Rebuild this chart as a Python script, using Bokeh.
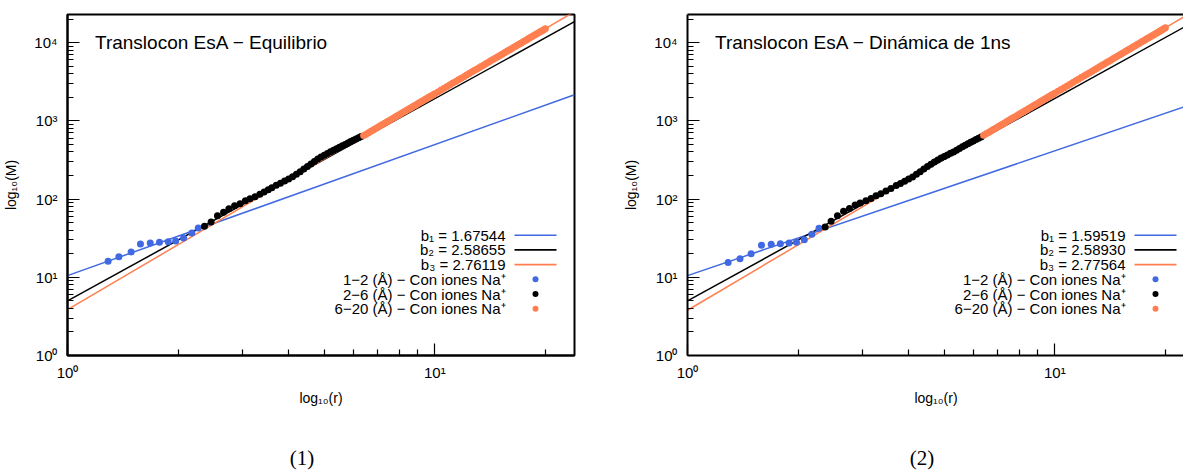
from bokeh.plotting import figure
from bokeh.layouts import row, column
from bokeh.models import Range1d, FixedTicker, LogAxis, Label, BoxAnnotation, Div, Spacer
from bokeh.embed import file_html
from bokeh.resources import INLINE

FONT = "Liberation Sans"
SERIF = "Liberation Serif"
BLUE = "#4169E1"
BLACK = "#000000"
CORAL = "#FF7F50"

Y_MAX = 22900

# ---------------- Panel (1): equilibrium ----------------
eq_r_12 = [1.29, 1.38, 1.49, 1.58, 1.68, 1.78, 1.88, 1.97, 2.07, 2.18, 2.27]
eq_m_12 = [16.0, 18.3, 21.1, 26.7, 27.5, 28.0, 28.5, 29.1, 31.8, 36.8, 42.7]

eq_r_26 = [2.36, 2.46, 2.56, 2.66, 2.75, 2.85, 2.95, 3.05, 3.14, 3.24, 3.34, 3.43, 3.52,
           3.6, 3.7, 3.8, 3.9, 4.0, 4.1, 4.2, 4.3, 4.4, 4.5, 4.6, 4.7, 4.8, 4.9, 5.0,
           5.1, 5.2, 5.3, 5.4, 5.5, 5.6, 5.7, 5.8, 5.9, 6.0, 6.1, 6.2, 6.3]
eq_m_26 = [45, 51, 61, 68, 75, 82, 87, 95, 101, 107, 115, 123, 132,
           140, 150, 159, 170, 181, 193, 208, 224, 243, 261, 281, 302, 325, 345, 364,
           383, 402, 421, 440, 460, 480, 500, 521, 543, 564, 587, 610, 632]

r_620 = [6.4, 6.5, 6.6, 6.7, 6.8, 6.9, 7.0, 7.1, 7.2, 7.3, 7.4, 7.5, 7.6, 7.7, 7.8, 7.9,
         8.0, 8.1, 8.2, 8.3, 8.4, 8.5, 8.6, 8.7, 8.8, 8.9, 9.0, 9.1, 9.2, 9.3, 9.4, 9.5,
         9.6, 9.7, 9.8, 9.9,
         10.0, 10.2, 10.4, 10.6, 10.8, 11.0, 11.2, 11.4, 11.6, 11.8, 12.0, 12.2, 12.4,
         12.6, 12.8, 13.0, 13.2, 13.4, 13.6, 13.8, 14.0, 14.2, 14.4, 14.6, 14.8, 15.0,
         15.2, 15.4, 15.6, 15.8, 16.0, 16.2, 16.4, 16.6, 16.8, 17.0, 17.2, 17.4, 17.6,
         17.8, 18.0, 18.2, 18.4, 18.6, 18.8, 19.0, 19.2, 19.4, 19.6, 19.8, 20.0]
eq_m_620 = [648, 676, 705, 735, 766, 798, 830, 863, 897, 932, 967, 1004, 1041, 1080, 1119,
            1159, 1200, 1242, 1284, 1328, 1373, 1418, 1465, 1513, 1561, 1610, 1661, 1712,
            1765, 1818, 1873, 1928, 1985, 2043, 2101, 2161,
            2222, 2347, 2476, 2610, 2748, 2890, 3038, 3190, 3347, 3509, 3675, 3847, 4024,
            4206, 4393, 4585, 4782, 4985, 5193, 5406, 5626, 5850, 6081, 6317, 6559, 6807,
            7060, 7320, 7584, 7857, 8134, 8418, 8707, 9005, 9308, 9616, 9932, 10250, 10580,
            10920, 11260, 11610, 11970, 12330, 12700, 13070, 13460, 13850, 14240, 14650, 15060]

eq_slopes = [1.67544, 2.58655, 2.76119]
eq_prefactors = [10.5, 4.98, 3.85]

# ---------------- Panel (2): 1 ns dynamics ----------------
md_r_12 = [1.29, 1.39, 1.49, 1.59, 1.69, 1.79, 1.89, 1.98, 2.08, 2.18, 2.28]
md_m_12 = [15.4, 17.3, 20.0, 25.7, 26.4, 26.9, 27.5, 28.0, 30.3, 35.5, 42.3]

md_r_26 = [2.37, 2.46, 2.56, 2.66, 2.76, 2.86, 2.95, 3.06, 3.16, 3.26, 3.36, 3.47, 3.58,
           3.7, 3.8, 3.9, 4.0, 4.1, 4.2, 4.3, 4.4, 4.5, 4.6, 4.7, 4.8, 4.9, 5.0,
           5.1, 5.2, 5.3, 5.4, 5.5, 5.6, 5.7, 5.8, 5.9, 6.0, 6.1, 6.2, 6.3]
md_m_26 = [44, 52, 61, 70, 76, 84, 89, 95, 102, 110, 117, 127, 137,
           149, 158, 169, 180, 192, 207, 224, 242, 260, 278, 297, 316, 334, 351,
           367, 384, 401, 420, 442, 465, 487, 509, 531, 553, 576, 599, 621]

md_m_620 = [654, 683, 712, 743, 774, 806, 839, 872, 907, 942, 978, 1016, 1053, 1092, 1132,
            1174, 1215, 1258, 1301, 1346, 1391, 1438, 1485, 1534, 1583, 1634, 1685, 1738,
            1791, 1846, 1901, 1958, 2016, 2075, 2135, 2195,
            2258, 2385, 2517, 2654, 2795, 2941, 3092, 3248, 3409, 3574, 3744, 3921, 4101,
            4288, 4480, 4676, 4878, 5087, 5300, 5519, 5744, 5975, 6212, 6454, 6702, 6957,
            7217, 7484, 7756, 8037, 8321, 8613, 8911, 9217, 9529, 9847, 10170, 10500, 10840,
            11190, 11540, 11900, 12270, 12640, 13020, 13410, 13800, 14210, 14620, 15030, 15460]

md_slopes = [1.59519, 2.58930, 2.77564]
md_prefactors = [10.5, 4.98, 3.79]

SERIES_LABELS = ["1\u22122 (\u00c5) \u2212 Con iones Na\u207a",
                 "2\u22126 (\u00c5) \u2212 Con iones Na\u207a",
                 "6\u221220 (\u00c5) \u2212 Con iones Na\u207a"]
SUBS = ["\u2081", "\u2082", "\u2083"]
COLORS = [BLUE, BLACK, CORAL]

X_MAJOR = [1, 10]
X_MINOR = [2, 3, 4, 5, 6, 7, 8, 9, 20, 30]
Y_MAJOR = [1, 10, 100, 1000, 10000]
Y_MINOR = [m * 10 ** e for e in range(5) for m in range(2, 10)]
SUP = {0: "\u2070", 1: "\u00b9", 2: "\u00b2", 3: "\u00b3", 4: "\u2074"}

FRAME_H = 341


def style_axis(ax):
    ax.axis_line_width = 2
    ax.axis_line_color = "black"
    ax.major_tick_in = 12
    ax.major_tick_out = 0
    ax.minor_tick_in = 6
    ax.minor_tick_out = 0
    ax.major_tick_line_width = 1.2
    ax.minor_tick_line_width = 1.2
    ax.major_tick_line_color = "black"
    ax.minor_tick_line_color = "black"
    ax.major_label_text_font = FONT
    ax.major_label_text_font_size = "15px"
    ax.major_label_text_color = "black"
    ax.axis_label_text_font = FONT
    ax.axis_label_text_font_size = "14px"
    ax.axis_label_text_font_style = "normal"
    ax.axis_label_text_color = "black"


def make_panel(title, r12, m12, r26, m26, r620, m620, slopes, prefactors,
               frame_w, border_l, border_r, full_box):
    x_max = 10 ** (frame_w / 367.3)
    p = figure(x_axis_type="log", y_axis_type="log",
               x_range=Range1d(1, x_max), y_range=Range1d(1, Y_MAX),
               frame_width=frame_w, frame_height=FRAME_H,
               min_border_left=border_l, min_border_right=border_r,
               min_border_top=14, min_border_bottom=92,
               output_backend="svg", toolbar_location=None,
               background_fill_color="white", border_fill_color="white")
    p.xgrid.visible = False
    p.ygrid.visible = False

    xa = p.below[0]
    ya = p.left[0]
    style_axis(xa)
    style_axis(ya)
    xa.ticker = FixedTicker(ticks=X_MAJOR, minor_ticks=X_MINOR)
    ya.ticker = FixedTicker(ticks=Y_MAJOR, minor_ticks=Y_MINOR)
    xa.major_label_overrides = {t: "10" + SUP[i] for i, t in enumerate(X_MAJOR)}
    ya.major_label_overrides = {t: "10" + SUP[i] for i, t in enumerate(Y_MAJOR)}
    xa.major_label_standoff = 8
    ya.major_label_standoff = 10
    xa.axis_label = "log\u2081\u2080(r)"
    ya.axis_label = "log\u2081\u2080(M)"
    xa.axis_label_standoff = 6
    ya.axis_label_standoff = 12

    if full_box:
        p.outline_line_color = "black"
        p.outline_line_width = 2
        p.outline_line_alpha = 1
    else:
        # frame runs past the page edge: only the top border is drawn
        p.outline_line_color = None
        top = LogAxis(ticker=FixedTicker(ticks=[]), axis_line_width=2,
                      axis_line_color="black",
                      major_tick_line_color=None, minor_tick_line_color=None,
                      major_label_text_font_size="0px", major_label_standoff=0)
        p.add_layout(top, "above")

    # power-law fits M = a * r^b across the visible r range
    for a, b, c in zip(prefactors, slopes, COLORS):
        p.line([1, x_max], [a, a * x_max ** b], line_color=c, line_width=1.5)

    for rr, mm, c in zip([r12, r26, r620], [m12, m26, m620], COLORS):
        p.scatter(rr, mm, size=7, fill_color=c, line_color=None)

    p.add_layout(Label(x=27.5, y=FRAME_H - 27.5, x_units="screen", y_units="screen",
                       text=title, text_font=FONT, text_font_size="19px",
                       text_baseline="middle", text_align="left", text_color="black"))

    # key: text right-aligned, sample to the right
    row0 = 220.7
    step = 14.7
    for i in range(6):
        yc = row0 + step * i
        yb = FRAME_H - yc
        if i < 3:
            txt = "b" + SUBS[i] + " = %.5f" % slopes[i]
        else:
            txt = SERIES_LABELS[i - 3]
        p.add_layout(Label(x=438, y=yb, x_units="screen", y_units="screen",
                           text=txt, text_font=FONT, text_font_size="15px",
                           text_align="right", text_baseline="middle",
                           text_color="black"))
        c = COLORS[i % 3]
        if i < 3:
            p.add_layout(BoxAnnotation(left=447, right=489, top=yb + 0.8, bottom=yb - 0.8,
                                       left_units="screen", right_units="screen",
                                       top_units="screen", bottom_units="screen",
                                       fill_color=c, fill_alpha=1, line_color=None))
        else:
            p.add_layout(BoxAnnotation(left=465, right=471, top=yb + 3, bottom=yb - 3,
                                       left_units="screen", right_units="screen",
                                       top_units="screen", bottom_units="screen",
                                       fill_color=c, fill_alpha=1, line_color=None,
                                       border_radius=3))
    return p


def caption(text, width):
    return Div(text=text, width=width, height=23, margin=0,
               styles={"text-align": "center", "font-family": SERIF,
                       "font-size": "21px", "line-height": "23px", "color": "black"})


p1 = make_panel("Translocon EsA \u2212 Equilibrio",
                eq_r_12, eq_m_12, eq_r_26, eq_m_26, r_620, eq_m_620,
                eq_slopes, eq_prefactors, 507, 67, 46, True)
p2 = make_panel("Translocon EsA \u2212 Din\u00e1mica de 1ns",
                md_r_12, md_m_12, md_r_26, md_m_26, r_620, md_m_620,
                md_slopes, md_prefactors, 497, 66, 0, False)

captions = row(caption("(1)", 604), Spacer(width=57, height=23), caption("(2)", 522))
layout = column(row(p1, p2), captions)
open("out.html", "w").write(file_html(layout, INLINE))
